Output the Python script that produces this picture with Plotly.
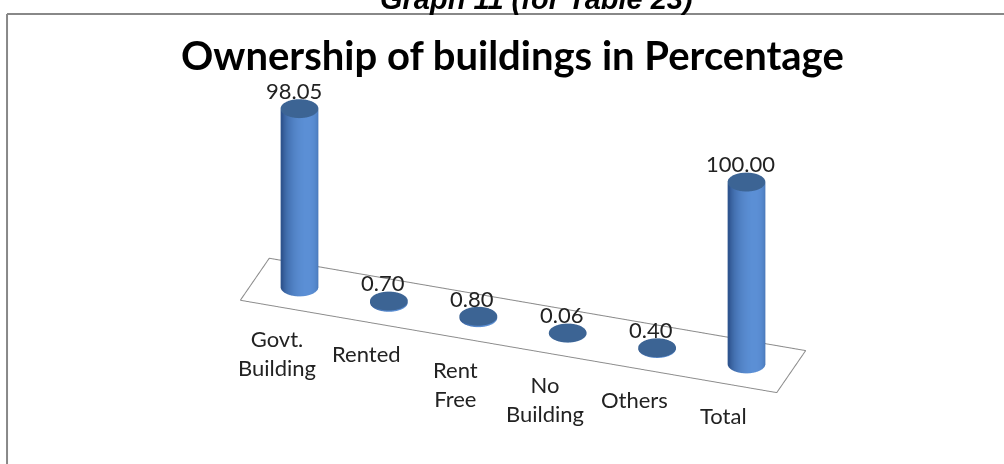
import numpy as np
import plotly.graph_objects as go

# ---------------- data ----------------
categories = ["Govt.<br>Building", "Rented", "Rent<br>Free", "No<br>Building", "Others", "Total"]
values = [98.05, 0.70, 0.80, 0.06, 0.40, 100.00]
value_labels = ["98.05", "0.70", "0.80", "0.06", "0.40", "100.00"]

title_text = "Ownership of buildings in Percentage"
header_text = "Graph 11 (for Table 23)"

# ---------------- style ----------------
RADIUS = 0.2
NSEG = 72
DEPTH = 0.47
SIDE_DARK = np.array([0x2E, 0x54, 0x8E])
SIDE_LIGHT = np.array([0x5C, 0x90, 0xD6])
TOP_COLOR = "#3C6494"
FONT = "Lato"
UNIT = 0.412            # scene units per category / depth unit
ZSCALE = 0.915 / 100.0  # scene units per percentage point

az = np.deg2rad(19.0)
elev = np.deg2rad(30.0)
cam_h = np.array([np.sin(az), -np.cos(az)])
right_v = np.array([np.cos(az), np.sin(az)])
light = cam_h + 0.45 * right_v
light = light / np.linalg.norm(light)

fig = go.Figure()

theta = np.linspace(0, 2 * np.pi, NSEG, endpoint=False)
for i, v in enumerate(values):
    cx = i + RADIUS * np.cos(theta)
    cy = RADIUS * np.sin(theta)
    # side
    xs = np.concatenate([cx, cx])
    ys = np.concatenate([cy, cy])
    zs = np.concatenate([np.zeros(NSEG), np.full(NSEG, v)])
    shade = np.clip(np.cos(theta) * light[0] + np.sin(theta) * light[1], 0, 1) ** 0.9
    cols = []
    for s in np.concatenate([shade, shade]):
        c = SIDE_DARK + (SIDE_LIGHT - SIDE_DARK) * s
        cols.append("rgb(%d,%d,%d)" % tuple(c.astype(int)))
    I, J, K = [], [], []
    for k in range(NSEG):
        k2 = (k + 1) % NSEG
        I += [k, k2]
        J += [k2, NSEG + k2]
        K += [NSEG + k, NSEG + k]
    fig.add_trace(go.Mesh3d(x=xs, y=ys, z=zs, i=I, j=J, k=K, vertexcolor=cols,
                            lighting=dict(ambient=1, diffuse=0, specular=0, fresnel=0, roughness=1),
                            hoverinfo="skip", showscale=False))
    # top cap
    tx = np.concatenate([[i], cx])
    ty = np.concatenate([[0], cy])
    tz = np.full(NSEG + 1, v)
    It, Jt, Kt = [], [], []
    for k in range(NSEG):
        It.append(0)
        Jt.append(1 + k)
        Kt.append(1 + (k + 1) % NSEG)
    fig.add_trace(go.Mesh3d(x=tx, y=ty, z=tz, i=It, j=Jt, k=Kt, color=TOP_COLOR, flatshading=True,
                            lighting=dict(ambient=1, diffuse=0, specular=0, fresnel=0, roughness=1),
                            hoverinfo="skip", showscale=False))

# floor outline
n = len(categories)
fig.add_trace(go.Scatter3d(
    x=[-0.5, n - 0.5, n - 0.5, -0.5, -0.5],
    y=[-DEPTH, -DEPTH, DEPTH, DEPTH, -DEPTH],
    z=[0, 0, 0, 0, 0],
    mode="lines", line=dict(color="#8c8c8c", width=2), hoverinfo="skip", showlegend=False))

annots = []
for i, (c, lbl, v) in enumerate(zip(categories, value_labels, values)):
    annots.append(dict(x=i, y=-DEPTH, z=0, text=c, showarrow=False, xanchor="center", yanchor="top",
                       yshift=-15, xshift=-8, font=dict(family=FONT, size=22, color="#222222")))
    annots.append(dict(x=i, y=0, z=v, text=lbl, showarrow=False, xanchor="center", yanchor="middle",
                       yshift=18, xshift=-6, font=dict(family=FONT, size=22, color="#222222")))

XR = [-0.6, n - 0.4]
YR = [-0.55, 0.55]
ZR = [-1.0, 101.0]

fig.update_layout(
    width=1004, height=464,
    margin=dict(l=0, r=0, t=0, b=0),
    paper_bgcolor="white",
    showlegend=False,
    scene=dict(
        domain=dict(x=[0.0459, 0.9959], y=[0.0, 0.99]),
        xaxis=dict(visible=False, range=XR),
        yaxis=dict(visible=False, range=YR),
        zaxis=dict(visible=False, range=ZR),
        aspectmode="manual",
        aspectratio=dict(x=(XR[1] - XR[0]) * UNIT, y=(YR[1] - YR[0]) * UNIT, z=(ZR[1] - ZR[0]) * ZSCALE),
        bgcolor="white",
        camera=dict(eye=dict(x=2 * np.cos(elev) * np.sin(az), y=-2 * np.cos(elev) * np.cos(az),
                             z=2 * np.sin(elev)),
                    up=dict(x=0, y=0, z=1), center=dict(x=0, y=0, z=0),
                    projection=dict(type="orthographic")),
        annotations=annots,
    ),
    annotations=[
        dict(text="<b><i>" + header_text + "</i></b>", x=0.534, y=0.963, xref="paper", yref="paper",
             xanchor="center", yanchor="bottom", showarrow=False,
             font=dict(family="Arial", size=29, color="black")),
        dict(text="<b>" + title_text + "</b>", x=0.51, y=1 - 55 / 464, xref="paper", yref="paper",
             xanchor="center", yanchor="middle", showarrow=False,
             font=dict(family=FONT, size=40, color="black")),
    ],
    shapes=[
        dict(type="line", xref="paper", yref="paper", x0=0.007, x1=1.0, y0=1 - 14 / 464, y1=1 - 14 / 464,
             line=dict(color="#888888", width=2)),
        dict(type="line", xref="paper", yref="paper", x0=0.007, x1=0.007, y0=0, y1=1 - 14 / 464,
             line=dict(color="#888888", width=2)),
    ],
)

fig.write_html("out.html", config={"displayModeBar": False},
               post_script="document.body.style.margin='0px';")
